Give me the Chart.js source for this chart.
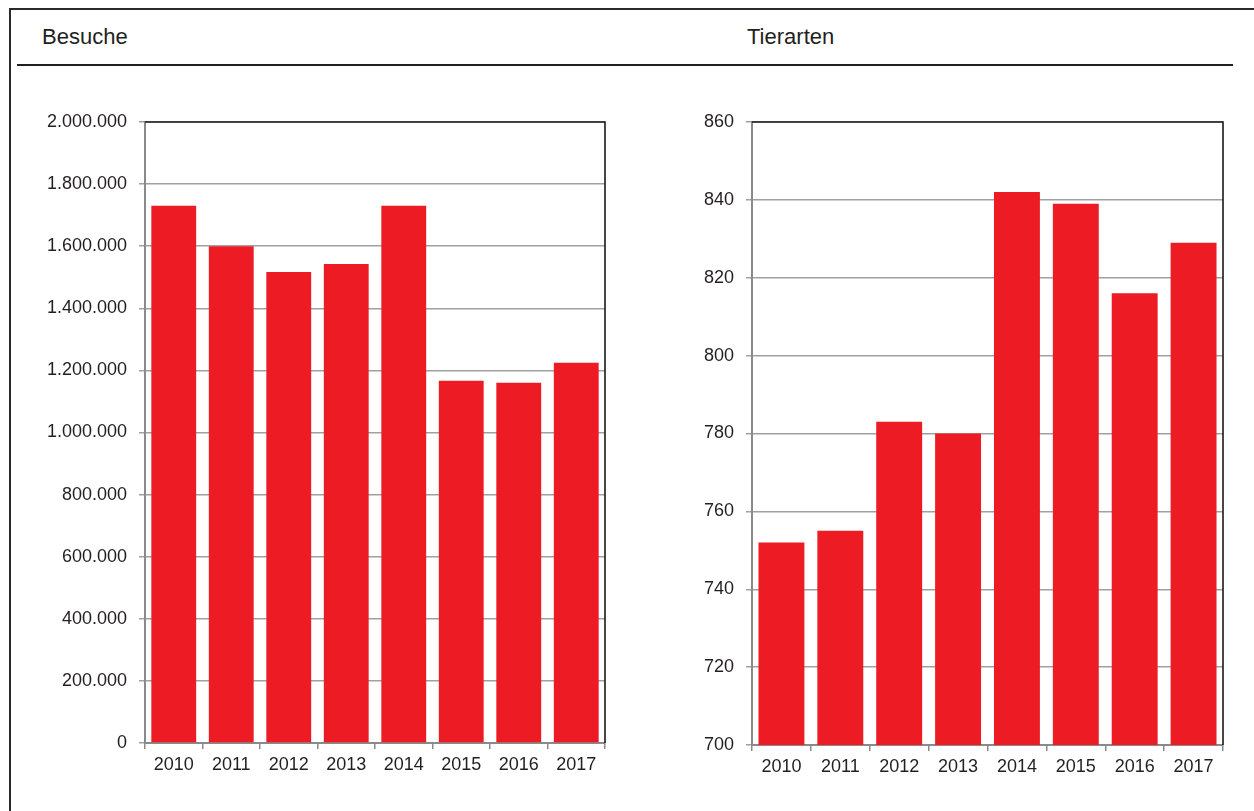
<!DOCTYPE html>
<html>
<head>
<meta charset="utf-8">
<script src="https://cdn.jsdelivr.net/npm/chart.js@4/dist/chart.umd.min.js"></script>
<style>
  html, body { margin: 0; padding: 0; background: #fff; }
  body { width: 1254px; height: 811px; position: relative; overflow: hidden; font-family: 'Liberation Sans', Arial, sans-serif; color: #231f20; }
  .frame-top { position: absolute; left: 9px; top: 8px; width: 1245px; height: 2px; background: #2b2b2b; }
  .frame-left { position: absolute; left: 9px; top: 8px; width: 2px; height: 803px; background: #2b2b2b; }
  .hline { position: absolute; left: 17px; top: 64px; width: 1216px; height: 2px; background: #231f20; }
  .title { position: absolute; top: 26px; font-size: 22px; line-height: 22px; white-space: nowrap; }
  canvas { position: absolute; }
</style>
</head>
<body>
<div class="frame-top"></div>
<div class="frame-left"></div>
<div class="title" style="left:42px">Besuche</div>
<div class="title" style="left:747px">Tierarten</div>
<div class="hline"></div>
<canvas id="c1" width="620" height="720" style="left:0px;top:80px;width:620px;height:720px"></canvas>
<canvas id="c2" width="634" height="720" style="left:620px;top:80px;width:634px;height:720px"></canvas>
<script>
const years = ['2010', '2011', '2012', '2013', '2014', '2015', '2016', '2017'];
const besuche = [1730000, 1600000, 1517000, 1543000, 1730000, 1167000, 1160000, 1225000];
const tierarten = [752, 755, 783, 780, 842, 839, 816, 829];
const besucheAxis = { min: 0, max: 2000000, step: 200000 };
const tierartenAxis = { min: 700, max: 860, step: 20 };

const RED = '#ed1c24';
const GRID = '#a0a0a0';
const AXIS = '#8a8a8a';
const TEXT = '#231f20';
const FONT = { family: "'Liberation Sans', Arial, sans-serif", size: 18 };

function de(n) { return String(n).replace(/\B(?=(\d{3})+(?!\d))/g, '.'); }

const frameBorder = {
  id: 'frameBorder',
  afterDraw(chart) {
    const a = chart.chartArea, ctx = chart.ctx;
    ctx.save();
    ctx.strokeStyle = '#1a1a1a';
    ctx.lineWidth = 1.6;
    ctx.beginPath();
    ctx.moveTo(a.left, a.top);
    ctx.lineTo(a.right, a.top);
    ctx.lineTo(a.right, a.bottom);
    ctx.stroke();
    ctx.restore();
  }
};

function makeChart(id, values, axis, yWidth, xHeight, padRight) {
  return new Chart(document.getElementById(id), {
    type: 'bar',
    data: {
      labels: years,
      datasets: [{ data: values, backgroundColor: RED, borderWidth: 0, barPercentage: 0.78, categoryPercentage: 1 }]
    },
    options: {
      responsive: false,
      animation: false,
      devicePixelRatio: 1,
      layout: { padding: { top: 42, right: padRight, left: 0, bottom: 0 } },
      plugins: { legend: { display: false }, tooltip: { enabled: false } },
      scales: {
        x: {
          offset: true,
          grid: { offset: true, drawOnChartArea: false, drawTicks: true, tickLength: 6, color: AXIS, lineWidth: 1.5 },
          border: { color: AXIS, width: 2 },
          ticks: { color: TEXT, font: FONT, padding: 5, maxRotation: 0 },
          afterFit(s) { s.height = xHeight; }
        },
        y: {
          min: axis.min, max: axis.max,
          grid: { color: GRID, lineWidth: 1.5, tickLength: 6, drawTicks: true },
          border: { color: AXIS, width: 2 },
          ticks: { stepSize: axis.step, color: TEXT, font: FONT, padding: 12, callback: v => de(v) },
          afterFit(s) { s.width = yWidth; }
        }
      }
    },
    plugins: [frameBorder]
  });
}

makeChart('c1', besuche, besucheAxis, 145, 57, 15);
makeChart('c2', tierarten, tierartenAxis, 132, 55, 31);
</script>
</body>
</html>
